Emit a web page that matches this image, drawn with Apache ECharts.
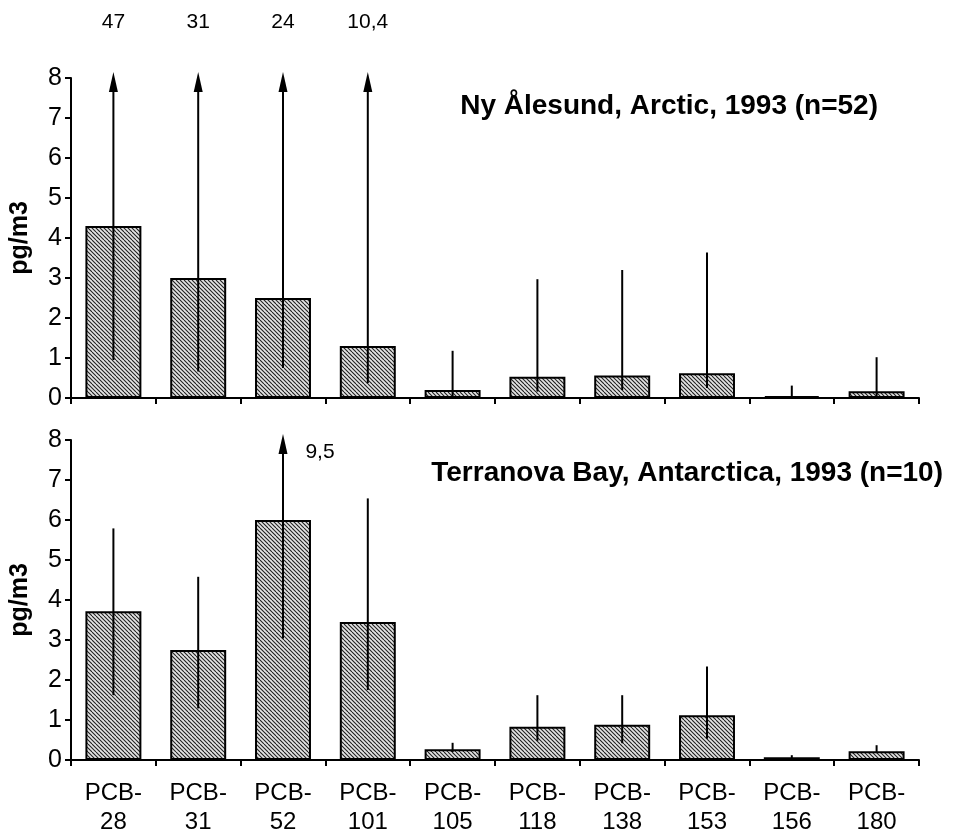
<!DOCTYPE html>
<html>
<head>
<meta charset="utf-8">
<title>PCB air concentrations</title>
<script src="https://cdn.jsdelivr.net/npm/echarts@6/dist/echarts.min.js"></script>
<style>
  html, body { margin: 0; padding: 0; background: #fff; }
  #chart { width: 959px; height: 835px; }
</style>
</head>
<body>
<div id="chart"></div>
<script>
const congeners = ['PCB-28', 'PCB-31', 'PCB-52', 'PCB-101', 'PCB-105', 'PCB-118', 'PCB-138', 'PCB-153', 'PCB-156', 'PCB-180']
const yTicks = [0, 1, 2, 3, 4, 5, 6, 7, 8]

// Ny Alesund, Arctic, 1993 (n=52)
const arcticMean = [4.3, 3.0, 2.5, 1.3, 0.2, 0.53, 0.56, 0.62, 0.05, 0.17]
const arcticLow = [0.95, 0.66, 0.75, 0.37, 0.05, 0.16, 0.2, 0.25, 0.02, 0.05]
const arcticHigh = [47, 31, 24, 10.4, 1.18, 2.97, 3.2, 3.64, 0.31, 1.02]

// Terranova Bay, Antarctica, 1993 (n=10)
const antarcticMean = [3.72, 2.75, 6.0, 3.45, 0.27, 0.83, 0.88, 1.12, 0.07, 0.22]
const antarcticLow = [1.62, 1.29, 3.04, 1.75, 0.2, 0.48, 0.42, 0.53, 0.05, 0.2]
const antarcticHigh = [5.79, 4.58, 9.5, 6.54, 0.43, 1.62, 1.62, 2.34, 0.12, 0.37]

const yMax = yTicks[yTicks.length - 1]

// hatched + stippled fill like the scanned figure
const makePattern = () => {
  const c = document.createElement('canvas')
  c.width = 8
  c.height = 8
  const ctx = c.getContext('2d')
  ctx.fillStyle = '#e4e4e4'
  ctx.fillRect(0, 0, 8, 8)
  ctx.fillStyle = '#666'
  ;[[1, 5], [5, 1], [3, 7], [7, 3]].forEach(([x, y]) => ctx.fillRect(x, y, 1, 1))
  ctx.strokeStyle = '#222'
  ctx.lineWidth = 1.1
  for (let k = -8; k <= 16; k += 4) {
    ctx.beginPath()
    ctx.moveTo(k, 0)
    ctx.lineTo(k + 8, 8)
    ctx.stroke()
  }
  return c
}
const pattern = makePattern()

const fmt = (v) => String(v).replace('.', ',')

// error bar with an arrow when the upper value is off the scale
const errorSeries = (low, high, xAxisIndex, yAxisIndex, labelDx, labelDy) => ({
  type: 'custom',
  xAxisIndex,
  yAxisIndex,
  clip: false,
  z: 5,
  data: low.map((v, i) => [i, v, high[i]]),
  renderItem: function (params, api) {
    const i = api.value(0)
    const lo = api.value(1)
    const hi = api.value(2)
    const off = hi > yMax
    const top = api.coord([i, off ? yMax + 0.15 : hi])
    const bottom = api.coord([i, lo])
    const children = [
      {
        type: 'line',
        shape: { x1: top[0], y1: off ? top[1] + 14 : top[1], x2: bottom[0], y2: bottom[1] },
        style: { stroke: '#000', lineWidth: 2 }
      }
    ]
    if (off) {
      children.push({
        type: 'polygon',
        shape: { points: [[top[0], top[1]], [top[0] - 4.5, top[1] + 20], [top[0] + 4.5, top[1] + 20]] },
        style: { fill: '#000' }
      })
      children.push({
        type: 'text',
        x: top[0] + labelDx,
        y: top[1] + labelDy,
        style: {
          text: fmt(hi),
          fill: '#000',
          fontSize: 21,
          fontFamily: 'Liberation Sans',
          align: 'center',
          verticalAlign: 'middle'
        }
      })
    }
    return { type: 'group', children }
  }
})

const xAxisBase = (gridIndex, showLabels) => ({
  type: 'category',
  gridIndex,
  data: congeners,
  boundaryGap: true,
  axisLine: { lineStyle: { color: '#000', width: 2 } },
  axisTick: { show: true, interval: 0, length: 6, lineStyle: { color: '#000', width: 2 } },
  axisLabel: {
    show: showLabels,
    interval: 0,
    margin: 19,
    color: '#000',
    fontSize: 24,
    lineHeight: 29,
    fontFamily: 'Liberation Sans',
    formatter: (v) => v.replace('-', '-\n')
  }
})

const yAxisBase = (gridIndex) => ({
  type: 'value',
  gridIndex,
  min: yTicks[0],
  max: yMax,
  interval: 1,
  name: 'pg/m3',
  nameLocation: 'middle',
  nameRotate: 90,
  nameGap: 38,
  nameTextStyle: { color: '#000', fontSize: 25, fontWeight: 'bold', fontFamily: 'Liberation Sans' },
  axisLine: { show: true, lineStyle: { color: '#000', width: 2 } },
  axisTick: { show: true, length: 6, lineStyle: { color: '#000', width: 2 } },
  splitLine: { show: false },
  axisLabel: { color: '#000', fontSize: 25, margin: 9, fontFamily: 'Liberation Sans' }
})

const barSeries = (data, xAxisIndex, yAxisIndex) => ({
  type: 'bar',
  xAxisIndex,
  yAxisIndex,
  data,
  barCategoryGap: '34%',
  itemStyle: {
    color: { image: pattern, repeat: 'repeat' },
    borderColor: '#000',
    borderWidth: 2
  },
  z: 2
})

const chart = echarts.init(document.getElementById('chart'))
chart.setOption({
  backgroundColor: '#fff',
  animation: false,
  title: [
    {
      text: 'Ny Ålesund, Arctic, 1993 (n=52)',
      right: 76,
      top: 87,
      textStyle: { color: '#000', fontSize: 28, fontWeight: 'bold', fontFamily: 'Liberation Sans' }
    },
    {
      text: 'Terranova Bay, Antarctica, 1993 (n=10)',
      right: 11,
      top: 454,
      textStyle: { color: '#000', fontSize: 28, fontWeight: 'bold', fontFamily: 'Liberation Sans' }
    }
  ],
  grid: [
    { left: 71, right: 40, top: 78, height: 320, outerBoundsMode: 'none' },
    { left: 71, right: 40, top: 440, height: 320, outerBoundsMode: 'none' }
  ],
  xAxis: [xAxisBase(0, false), xAxisBase(1, true)],
  yAxis: [yAxisBase(0), yAxisBase(1)],
  series: [
    barSeries(arcticMean, 0, 0),
    errorSeries(arcticLow, arcticHigh, 0, 0, 0, -50),
    barSeries(antarcticMean, 1, 1),
    errorSeries(antarcticLow, antarcticHigh, 1, 1, 37, 18)
  ]
})
</script>
</body>
</html>
